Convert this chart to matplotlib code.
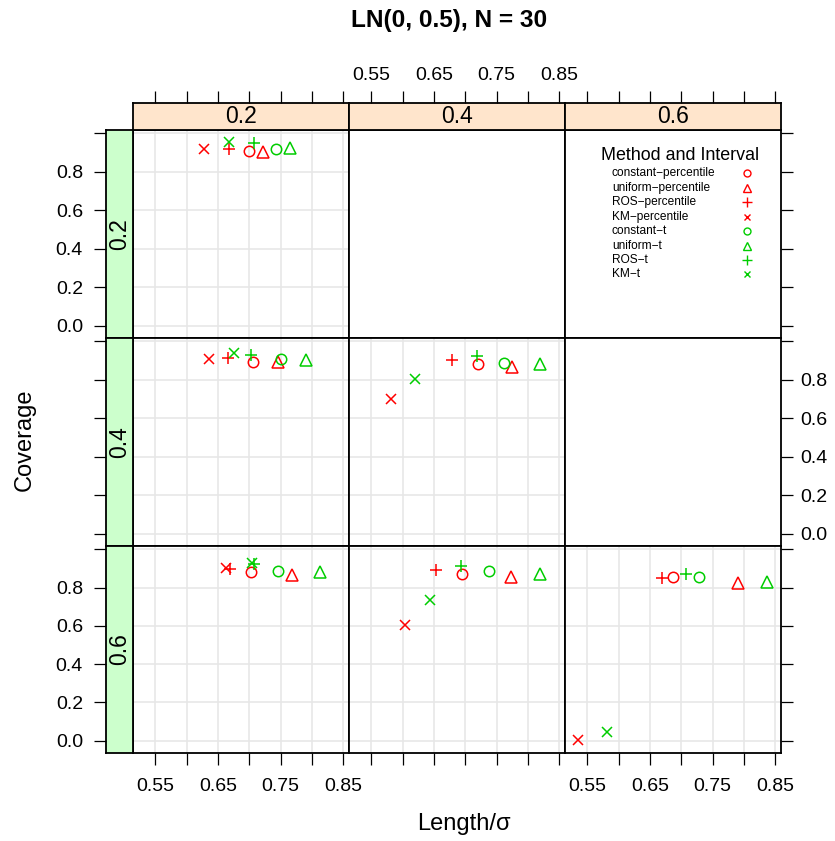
import matplotlib
matplotlib.use("Agg")
import matplotlib.pyplot as plt
from matplotlib.lines import Line2D

plt.rcParams['font.family'] = ['Liberation Sans', 'DejaVu Sans']

# strip levels
col_levels = ["0.2", "0.4", "0.6"]
row_levels = ["0.2", "0.4", "0.6"]

methods = ["constant\u2212percentile", "uniform\u2212percentile", "ROS\u2212percentile", "KM\u2212percentile",
           "constant\u2212t", "uniform\u2212t", "ROS\u2212t", "KM\u2212t"]
colors = ["#FF0000"] * 4 + ["#00CD00"] * 4
markers = ["o", "^", "+", "x"] * 2

# (row, col) panels, values in method order
length_r1c1 = [0.700, 0.722, 0.668, 0.628, 0.743, 0.765, 0.708, 0.667]
cover_r1c1 = [0.911, 0.905, 0.918, 0.921, 0.921, 0.922, 0.949, 0.957]

length_r2c1 = [0.706, 0.745, 0.666, 0.636, 0.751, 0.791, 0.703, 0.676]
cover_r2c1 = [0.895, 0.895, 0.916, 0.908, 0.907, 0.904, 0.930, 0.939]

length_r2c2 = [0.720, 0.7745, 0.678, 0.582, 0.762, 0.819, 0.719, 0.620]
cover_r2c2 = [0.881, 0.866, 0.904, 0.700, 0.890, 0.881, 0.925, 0.807]

length_r3c1 = [0.703, 0.768, 0.670, 0.663, 0.745, 0.813, 0.708, 0.704]
cover_r3c1 = [0.881, 0.868, 0.900, 0.905, 0.885, 0.880, 0.923, 0.931]

length_r3c2 = [0.695, 0.773, 0.654, 0.604, 0.737, 0.819, 0.693, 0.643]
cover_r3c2 = [0.869, 0.857, 0.890, 0.604, 0.885, 0.871, 0.911, 0.738]

length_r3c3 = [0.687, 0.790, 0.669, 0.535, 0.729, 0.837, 0.7075, 0.581]
cover_r3c3 = [0.857, 0.822, 0.848, 0.002, 0.857, 0.831, 0.871, 0.045]

panels = {
    (0, 0): (length_r1c1, cover_r1c1),
    (1, 0): (length_r2c1, cover_r2c1),
    (1, 1): (length_r2c2, cover_r2c2),
    (2, 0): (length_r3c1, cover_r3c1),
    (2, 1): (length_r3c2, cover_r3c2),
    (2, 2): (length_r3c3, cover_r3c3),
}

x_ticks = [0.55, 0.60, 0.65, 0.70, 0.75, 0.80, 0.85]
x_labels = ["0.55", "", "0.65", "", "0.75", "", "0.85"]
y_ticks = [0.0, 0.2, 0.4, 0.6, 0.8, 1.0]
y_labels = ["0.0", "0.2", "0.4", "0.6", "0.8", ""]
xlim = (0.5145, 0.859)
ylim = (-0.065, 1.018)

W, H = 835, 841
fig = plt.figure(figsize=(W / 100, H / 100), dpi=100)


def box(x0, y0, x1, y1):
    return [x0 / W, 1 - y1 / H, (x1 - x0) / W, (y1 - y0) / H]


col_x = [133, 349, 565, 781]
row_y = [130, 338, 546, 753]
tick_len = 8.6
tick_kw = dict(direction="out", length=tick_len, width=0.9, labelsize=14, color="black")
frame_lw = 1.3

for r in range(3):
    for c in range(3):
        ax = fig.add_axes(box(col_x[c], row_y[r], col_x[c + 1], row_y[r + 1]))
        ax.set_xlim(*xlim)
        ax.set_ylim(*ylim)
        for s in ax.spines.values():
            s.set_linewidth(frame_lw)
        ax.set_xticks(x_ticks)
        ax.set_xticklabels(x_labels)
        ax.set_yticks(y_ticks)
        ax.set_yticklabels(y_labels)
        ax.tick_params(axis="x", bottom=(r == 2), top=False,
                       labelbottom=(r == 2 and c != 1), labeltop=False, pad=9.5, **tick_kw)
        ax.tick_params(axis="y", left=False, right=(c == 2),
                       labelleft=False, labelright=(c == 2 and r == 1), pad=5.5, **tick_kw)
        if (r, c) in panels:
            xs, ys = panels[(r, c)]
            for v in x_ticks:
                ax.axvline(v, color="#E6E6E6", lw=1.1, zorder=0)
            for v in y_ticks:
                ax.axhline(v, color="#E6E6E6", lw=1.1, zorder=0)
            for i in range(len(methods)):
                m = markers[i]
                if m in ("o", "^"):
                    ax.plot(xs[i], ys[i], linestyle="none", marker=m, ms=7.5 if m == "o" else 9,
                            mfc="none", mec=colors[i], mew=1.1, clip_on=False)
                else:
                    ax.plot(xs[i], ys[i], linestyle="none", marker=m, ms=9 if m == "+" else 7,
                            color=colors[i], mew=1.1, clip_on=False)

    # left strip for the row
    sax = fig.add_axes(box(106, row_y[r], 133, row_y[r + 1]))
    sax.set_facecolor("#CCFFCC")
    sax.set_xlim(0, 1)
    sax.set_ylim(*ylim)
    for s in sax.spines.values():
        s.set_linewidth(frame_lw)
    sax.set_xticks([])
    sax.set_yticks(y_ticks)
    sax.set_yticklabels(y_labels)
    sax.tick_params(axis="y", left=True, labelleft=(r != 1), pad=8, **tick_kw)
    sax.text(0.5, (ylim[0] + ylim[1]) / 2, row_levels[r], rotation=90, ha="center", va="center",
             fontsize=16.5)

# top strips
for c in range(3):
    tax = fig.add_axes(box(col_x[c], 103, col_x[c + 1], 130))
    tax.set_facecolor("#FFE5CC")
    tax.set_xlim(*xlim)
    tax.set_ylim(0, 1)
    for s in tax.spines.values():
        s.set_linewidth(frame_lw)
    tax.set_yticks([])
    tax.set_xticks(x_ticks)
    tax.set_xticklabels(x_labels)
    tax.tick_params(axis="x", bottom=False, labelbottom=False, top=True,
                    labeltop=(c == 1), pad=5, **tick_kw)
    tax.text((xlim[0] + xlim[1]) / 2, 0.5, col_levels[c], ha="center", va="center", fontsize=16.5)

# legend
fig.text(680 / W, 1 - 155 / H, "Method and Interval", ha="center", va="center", fontsize=12.9)
leg_y = [173.3, 187.7, 202.3, 216.7, 230.7, 245.7, 260.0, 274.3]
for i in range(len(methods)):
    fig.text(612 / W, 1 - leg_y[i] / H, methods[i], ha="left", va="center", fontsize=8.6)
    m = markers[i]
    if m in ("o", "^"):
        ln = Line2D([747 / W], [1 - leg_y[i] / H], linestyle="none", marker=m,
                    ms=5 if m == "o" else 6, mfc="none", mec=colors[i], mew=1.0,
                    transform=fig.transFigure)
    else:
        ln = Line2D([747 / W], [1 - leg_y[i] / H], linestyle="none", marker=m,
                    ms=7 if m == "+" else 5, color=colors[i], mew=1.0,
                    transform=fig.transFigure)
    fig.add_artist(ln)

fig.text(449 / W, 1 - 20 / H, "LN(0, 0.5), N = 30", ha="center", va="center",
         fontsize=17.6, fontweight="bold")
fig.text(464 / W, 1 - 824 / H, "Length/\u03c3", ha="center", va="center", fontsize=17)
fig.text(25 / W, 1 - 440 / H, "Coverage", ha="center", va="center", rotation=90, fontsize=17)

fig.savefig("out.png", dpi=100)
